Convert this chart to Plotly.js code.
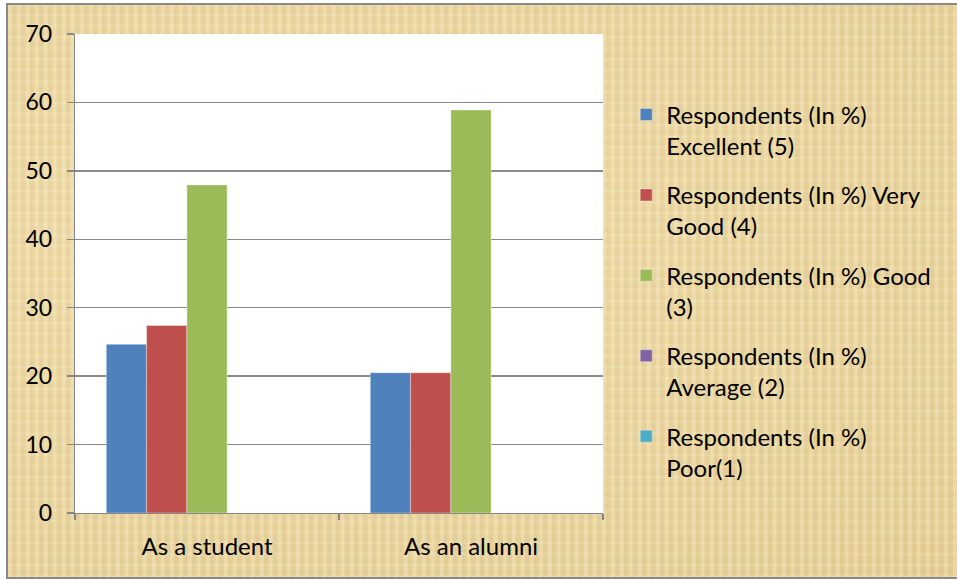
<!DOCTYPE html>
<html>
<head>
<meta charset="utf-8">
<script src="https://cdn.plot.ly/plotly-3.0.1.min.js"></script>
<style>
  html, body { margin: 0; padding: 0; background: #ffffff; }
  #frame {
    position: absolute; left: 6px; top: 3px; width: 960px; height: 576px;
    box-sizing: border-box; border: 2px solid #8a8a8a;
    background-color: #ead6a2;
    background-image:
      repeating-linear-gradient(90deg, rgba(255,245,210,0.25) 0px, rgba(255,245,210,0.25) 3px, rgba(190,160,100,0.10) 5px, rgba(255,245,210,0.0) 9px),
      repeating-linear-gradient(0deg, rgba(255,245,210,0.20) 0px, rgba(190,160,100,0.08) 4px, rgba(255,245,210,0.0) 11px),
      radial-gradient(ellipse at 30% 40%, rgba(245,228,180,0.6), rgba(215,185,120,0.3));
  }
  #chart { position: absolute; left: 0; top: 0; width: 957px; height: 580px; }
</style>
</head>
<body>
<div id="frame"></div>
<div id="chart"></div>
<script>
const categories = ["As a student", "As an alumni"];
const seriesNames = [
  "Respondents (In %)<br>Excellent (5)",
  "Respondents (In %) Very<br>Good (4)",
  "Respondents (In %) Good<br>(3)",
  "Respondents (In %)<br>Average (2)",
  "Respondents (In %)<br>Poor(1)"
];
const excellent = [24.66, 20.5];
const veryGood  = [27.4, 20.5];
const good      = [47.95, 58.9];
const average   = [0, 0];
const poor      = [0, 0];
const colors = ["#4f81bd", "#c0504d", "#9bbb59", "#8064a2", "#4bacc6"];
const yTicks = [0, 10, 20, 30, 40, 50, 60, 70];

const seriesValues = [excellent, veryGood, good, average, poor];
const traces = seriesValues.map((vals, i) => ({
  type: "bar",
  name: seriesNames[i],
  x: categories,
  y: vals,
  legendgroup: "g" + i,
  marker: { color: colors[i], line: { color: "rgba(255,255,255,0.6)", width: 0.6 } },
  hoverinfo: "x+y"
}));

const font = "Lato, 'Open Sans', sans-serif";
const layout = {
  width: 957, height: 580,
  margin: { l: 75, r: 354, t: 34, b: 67 },
  paper_bgcolor: "rgba(0,0,0,0)",
  plot_bgcolor: "#ffffff",
  barmode: "group",
  bargap: 0.237,
  bargroupgap: 0,
  font: { family: font, size: 24, color: "#000000" },
  showlegend: true,
  legend: {
    x: 1.044, xanchor: "left", y: 0.878, yanchor: "top",
    bgcolor: "rgba(0,0,0,0)",
    traceorder: "grouped",
    tracegroupgap: 15,
    valign: "top",
    font: { family: font, size: 24, color: "#000000" },
    itemwidth: 30
  },
  xaxis: {
    type: "category",
    tickson: "boundaries",
    ticks: "outside", ticklen: 6, tickcolor: "#868686", tickwidth: 1.3,
    showline: true, linecolor: "#868686", linewidth: 1.3,
    showgrid: false,
    tickfont: { family: font, size: 24 },
    ticklabelstandoff: 12
  },
  yaxis: {
    range: [0, 70],
    tickvals: yTicks,
    ticktext: yTicks.map(String),
    ticks: "outside", ticklen: 7, tickcolor: "#868686", tickwidth: 1.3,
    showline: true, linecolor: "#868686", linewidth: 1.3,
    showgrid: true, gridcolor: "#8a8a8a", gridwidth: 1.3,
    zeroline: false,
    tickfont: { family: font, size: 23 },
    ticklabelstandoff: 10
  }
};

Plotly.newPlot("chart", traces, layout, { displayModeBar: false, staticPlot: true });
</script>
</body>
</html>
